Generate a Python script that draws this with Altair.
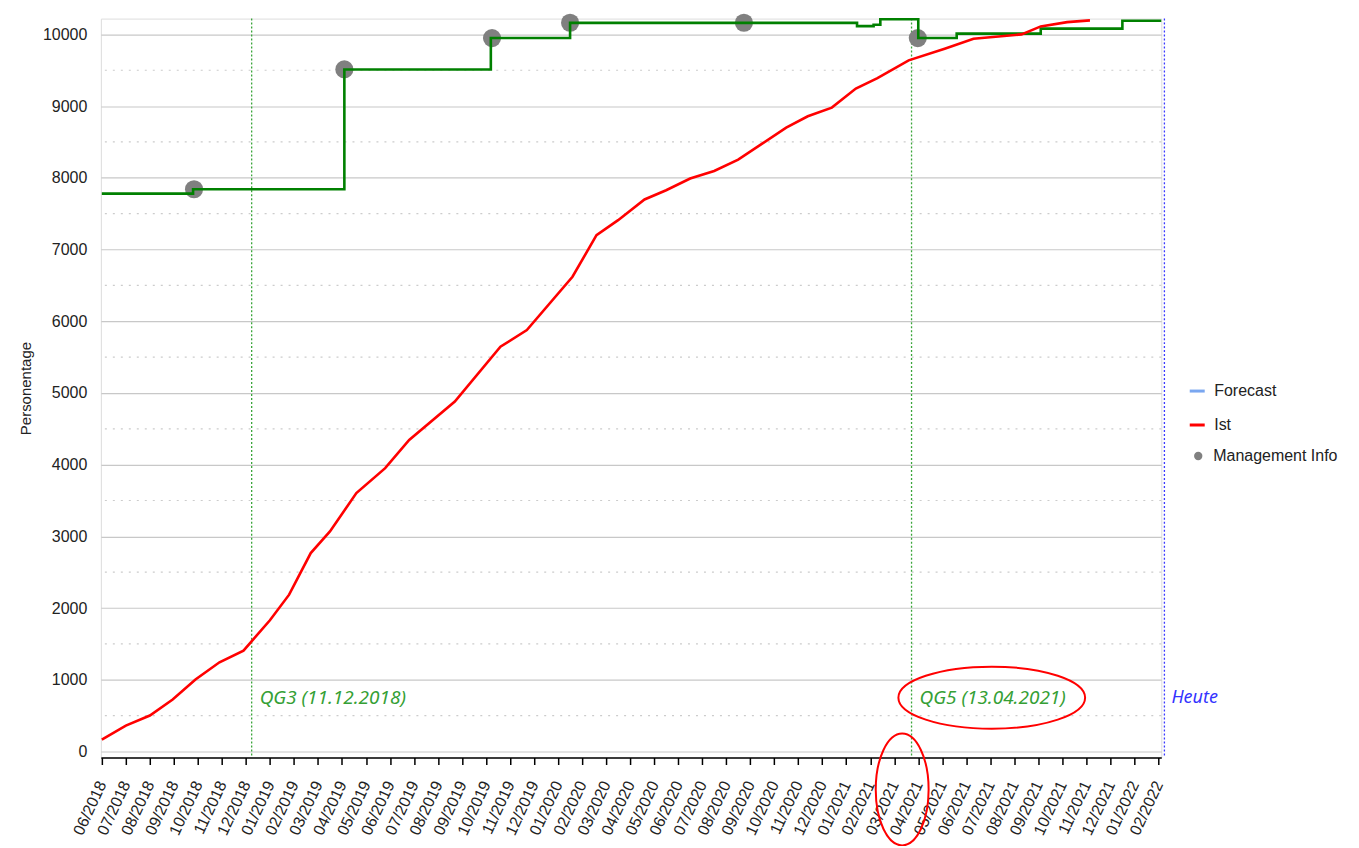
import json
import altair as alt
import pandas as pd

# ---------------- data ----------------
month_labels = [
    "06/2018", "07/2018", "08/2018", "09/2018", "10/2018", "11/2018", "12/2018",
    "01/2019", "02/2019", "03/2019", "04/2019", "05/2019", "06/2019",
    "07/2019", "08/2019", "09/2019", "10/2019", "11/2019", "12/2019",
    "01/2020", "02/2020", "03/2020", "04/2020", "05/2020", "06/2020",
    "07/2020", "08/2020", "09/2020", "10/2020", "11/2020", "12/2020",
    "01/2021", "02/2021", "03/2021", "04/2021", "05/2021", "06/2021",
    "07/2021", "08/2021", "09/2021", "10/2021", "11/2021", "12/2021",
    "01/2022", "02/2022",
]
month_ticks = list(range(len(month_labels)))

# Plan (green step line): month position / value
plan_x = [0, 3.8, 10.1, 16.2, 19.5, 31.45, 32.14, 32.42, 34.0, 35.6, 39.1, 42.5, 44.12]
plan_y = [7780, 7840, 9510, 9950, 10160, 10115, 10135, 10210, 9950, 10010, 10080, 10190, 10190]

# Ist (red line)
ist_x = [0, 1.0, 2.0, 2.95, 3.9, 4.9, 5.9, 7.0, 7.8, 8.7, 9.5, 10.6, 11.8, 12.8, 14.7,
         16.6, 17.7, 19.6, 20.6, 21.5, 22.6, 23.5, 24.5, 25.5, 26.5, 27.5, 28.5, 29.4,
         30.4, 31.4, 32.3, 33.6, 35.1, 36.3, 38.3, 39.1, 40.2, 41.15]
ist_y = [167, 360, 501, 724, 1003, 1244, 1407, 1830, 2187, 2767, 3068, 3603, 3951, 4345, 4879,
         5645, 5877, 6620, 7200, 7409, 7698, 7827, 7990, 8096, 8254, 8477, 8700, 8858,
         8979, 9244, 9390, 9638, 9801, 9940, 10000, 10111, 10171, 10195]

# Management Info (grey dots)
mgmt_x = [3.84, 10.1, 16.25, 19.5, 26.74, 33.98]
mgmt_y = [7840, 9512, 9948, 10162, 10162, 9948]

# Quality gates and "today"
gate_labels = ["QG3 (11.12.2018)", "QG5 (13.04.2021)"]
gate_x = [6.24, 33.72]
today_label = ["Heute"]
today_x = [44.25]
label_level = 750

line_series = ["Forecast", "Ist"]
line_colors = ["#7aa7f0", "#ff0000"]
dot_series = ["Management Info"]
dot_colors = ["#808080"]

major_y = [0, 1000, 2000, 3000, 4000, 5000, 6000, 7000, 8000, 9000, 10000]
minor_y = [500, 1500, 2500, 3500, 4500, 5500, 6500, 7500, 8500, 9500]

# red highlight ellipses (annotation)
ell1_x, ell1_y = [37.06], [750]
ell2_x, ell2_y = [33.33], [-530]

# ---------------- chart ----------------
FONT = "Liberation Sans"
x_scale = alt.Scale(domain=[-0.04, 44.12], nice=False, zero=False)
y_scale = alt.Scale(domain=[-84, 10220], nice=False, zero=False)

x_axis = alt.Axis(
    values=month_ticks,
    labelExpr=json.dumps(month_labels) + "[datum.value]",
    labelAngle=-65, labelOverlap=False, labelFlush=False, labelBound=False,
    labelFont=FONT, labelFontSize=16, labelColor="#222222", labelPadding=17,
    domainColor="#000000", domainWidth=1.5,
    tickColor="#000000", tickSize=7, tickWidth=1.5,
    grid=False, title=None,
)
y_axis = alt.Axis(
    values=major_y, format="d", grid=True, gridColor="#c8c8c8", gridWidth=1.2,
    domain=False, ticks=False, labelPadding=14,
    labelFont=FONT, labelFontSize=16, labelColor="#222222",
    title="Personentage", titleFont=FONT, titleFontSize=15,
    titleFontWeight="normal", titleColor="#222222", titlePadding=9,
)

X = lambda: alt.X("x:Q", scale=x_scale, axis=x_axis)
Y = lambda: alt.Y("y:Q", scale=y_scale, axis=y_axis)

line_legend = alt.Legend(
    title=None, orient="none", legendX=1089, legendY=364, padding=0,
    labelFont=FONT, labelFontSize=16, labelColor="#222222",
    symbolType="stroke", symbolSize=225, symbolStrokeWidth=3,
    rowPadding=17, labelOffset=8,
)
dot_legend = alt.Legend(
    title=None, orient="none", legendX=1091, legendY=430, padding=0,
    labelFont=FONT, labelFontSize=16, labelColor="#222222",
    symbolType="circle", symbolSize=70, symbolOpacity=1, symbolStrokeWidth=0,
    labelOffset=7,
)
line_color = alt.Color("s:N", scale=alt.Scale(domain=line_series, range=line_colors), legend=line_legend)
dot_fill = alt.Fill("s:N", scale=alt.Scale(domain=dot_series, range=dot_colors), legend=dot_legend)

minor_df = pd.DataFrame({"y": minor_y})
plan_df = pd.DataFrame({"x": plan_x, "y": plan_y})
ist_df = pd.DataFrame({"x": ist_x, "y": ist_y, "s": "Ist"})
mgmt_df = pd.DataFrame({"x": mgmt_x, "y": mgmt_y, "s": "Management Info"})
gate_df = pd.DataFrame({"x": gate_x, "y": label_level, "t": gate_labels})
today_df = pd.DataFrame({"x": today_x, "y": label_level, "t": today_label})
ell1_df = pd.DataFrame({"x": ell1_x, "y": ell1_y})
ell2_df = pd.DataFrame({"x": ell2_x, "y": ell2_y})

minor = alt.Chart(minor_df).mark_rule(color="#cccccc", strokeDash=[2, 6], strokeWidth=1.2).encode(y=Y())
gates = alt.Chart(gate_df).mark_rule(color="#3aa53a", strokeDash=[2, 2], strokeWidth=1.3).encode(x=X())
today = alt.Chart(today_df).mark_rule(color="#3a3aff", strokeDash=[2, 2], strokeWidth=1.3).encode(x=X())
points = alt.Chart(mgmt_df).mark_circle(size=330, opacity=1).encode(x=X(), y=Y(), fill=dot_fill)
plan = alt.Chart(plan_df).mark_line(interpolate="step-after", color="#008000", strokeWidth=2.6).encode(x=X(), y=Y())
ist = alt.Chart(ist_df).mark_line(strokeWidth=2.6).encode(x=X(), y=Y(), color=line_color)
gate_text = alt.Chart(gate_df).mark_text(
    align="left", baseline="middle", dx=8, font="Noto Sans", fontStyle="italic",
    fontSize=19, color="#35a035").encode(x=X(), y=Y(), text="t:N")
today_text = alt.Chart(today_df).mark_text(
    align="left", baseline="middle", dx=7, font="Noto Sans", fontStyle="italic",
    fontSize=18, color="#3333ff").encode(x=X(), y=Y(), text="t:N")
ell1 = alt.Chart(ell1_df).mark_point(
    shape="M-1,0A1,0.332,0,1,0,1,0A1,0.332,0,1,0,-1,0Z", size=187 * 187,
    filled=False, color="#ff0000", strokeWidth=2, opacity=1).encode(x=X(), y=Y())
ell2 = alt.Chart(ell2_df).mark_point(
    shape="M0,-1A0.473,1,0,1,0,0,1A0.473,1,0,1,0,0,-1Z", size=112 * 112,
    filled=False, color="#ff0000", strokeWidth=2, opacity=1).encode(x=X(), y=Y())

chart = alt.layer(
    minor, gates, today, points, plan, ist, gate_text, today_text, ell1, ell2
).resolve_scale(color="independent", fill="independent").properties(
    width=1062, height=740,
    autosize=alt.AutoSizeParams(type="none"),
    padding={"left": 93, "top": 10, "right": 190, "bottom": 88},
).configure_view(stroke=None).configure(font=FONT)

chart.save("out.html", embed_options={"renderer": "svg", "actions": False})
